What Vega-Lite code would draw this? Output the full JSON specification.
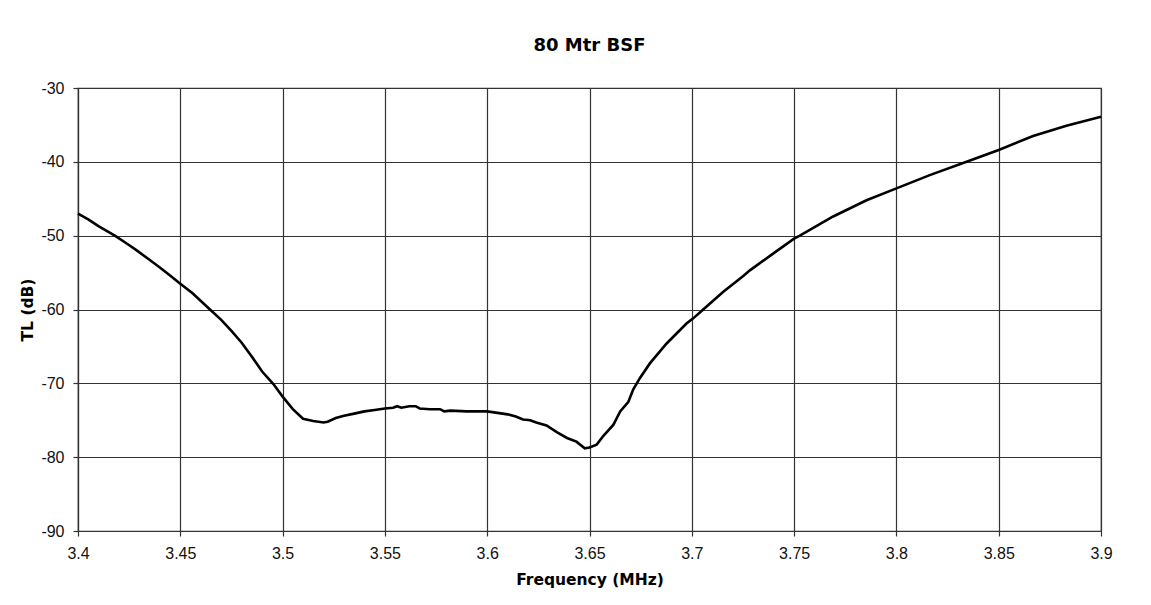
{
  "$schema": "https://vega.github.io/schema/vega-lite/v6.json",
  "width": 1023,
  "height": 443,
  "autosize": {"type": "none"},
  "padding": {"left": 78, "top": 88, "right": 50, "bottom": 74},
  "background": "white",
  "title": {
    "text": "80 Mtr BSF",
    "font": "DejaVu Sans",
    "fontSize": 18,
    "fontWeight": "bold",
    "color": "#000000",
    "anchor": "middle",
    "baseline": "alphabetic",
    "offset": 11
  },
  "data": {
    "values": [
      {"f": 3.400, "tl": -47.0},
      {"f": 3.405, "tl": -47.8},
      {"f": 3.410, "tl": -48.7},
      {"f": 3.418, "tl": -50.0},
      {"f": 3.424, "tl": -51.1},
      {"f": 3.4287, "tl": -52.0},
      {"f": 3.4351, "tl": -53.3},
      {"f": 3.440, "tl": -54.3},
      {"f": 3.445, "tl": -55.4},
      {"f": 3.450, "tl": -56.5},
      {"f": 3.456, "tl": -57.8},
      {"f": 3.4645, "tl": -60.0},
      {"f": 3.470, "tl": -61.4},
      {"f": 3.475, "tl": -62.9},
      {"f": 3.480, "tl": -64.5},
      {"f": 3.485, "tl": -66.4},
      {"f": 3.490, "tl": -68.4},
      {"f": 3.4955, "tl": -70.1},
      {"f": 3.500, "tl": -71.8},
      {"f": 3.505, "tl": -73.5},
      {"f": 3.510, "tl": -74.8},
      {"f": 3.515, "tl": -75.1},
      {"f": 3.520, "tl": -75.3},
      {"f": 3.522, "tl": -75.2},
      {"f": 3.526, "tl": -74.7},
      {"f": 3.530, "tl": -74.4},
      {"f": 3.535, "tl": -74.1},
      {"f": 3.540, "tl": -73.8},
      {"f": 3.545, "tl": -73.6},
      {"f": 3.550, "tl": -73.4},
      {"f": 3.554, "tl": -73.3},
      {"f": 3.556, "tl": -73.1},
      {"f": 3.558, "tl": -73.3},
      {"f": 3.562, "tl": -73.1},
      {"f": 3.565, "tl": -73.1},
      {"f": 3.567, "tl": -73.4},
      {"f": 3.572, "tl": -73.5},
      {"f": 3.577, "tl": -73.5},
      {"f": 3.579, "tl": -73.8},
      {"f": 3.582, "tl": -73.7},
      {"f": 3.590, "tl": -73.8},
      {"f": 3.600, "tl": -73.8},
      {"f": 3.605, "tl": -74.0},
      {"f": 3.610, "tl": -74.2},
      {"f": 3.614, "tl": -74.5},
      {"f": 3.6175, "tl": -74.9},
      {"f": 3.621, "tl": -75.0},
      {"f": 3.624, "tl": -75.3},
      {"f": 3.629, "tl": -75.7},
      {"f": 3.634, "tl": -76.6},
      {"f": 3.639, "tl": -77.4},
      {"f": 3.6436, "tl": -77.9},
      {"f": 3.6477, "tl": -78.8},
      {"f": 3.650, "tl": -78.7},
      {"f": 3.6535, "tl": -78.3},
      {"f": 3.6568, "tl": -77.1},
      {"f": 3.6617, "tl": -75.6},
      {"f": 3.665, "tl": -73.8},
      {"f": 3.669, "tl": -72.5},
      {"f": 3.6714, "tl": -70.8},
      {"f": 3.6746, "tl": -69.3},
      {"f": 3.6795, "tl": -67.3},
      {"f": 3.6877, "tl": -64.6},
      {"f": 3.6974, "tl": -61.9},
      {"f": 3.7007, "tl": -61.2},
      {"f": 3.706, "tl": -59.9},
      {"f": 3.7154, "tl": -57.6},
      {"f": 3.725, "tl": -55.5},
      {"f": 3.7284, "tl": -54.7},
      {"f": 3.7399, "tl": -52.4},
      {"f": 3.750, "tl": -50.4},
      {"f": 3.7528, "tl": -50.0},
      {"f": 3.7691, "tl": -47.4},
      {"f": 3.7854, "tl": -45.2},
      {"f": 3.800, "tl": -43.6},
      {"f": 3.8163, "tl": -41.8},
      {"f": 3.8343, "tl": -40.0},
      {"f": 3.850, "tl": -38.4},
      {"f": 3.8668, "tl": -36.5},
      {"f": 3.8831, "tl": -35.1},
      {"f": 3.900, "tl": -33.9}
    ]
  },
  "mark": {"type": "line", "color": "#000000", "strokeWidth": 2.6, "interpolate": "linear"},
  "encoding": {
    "x": {
      "field": "f",
      "type": "quantitative",
      "scale": {"domain": [3.4, 3.9], "nice": false, "zero": false},
      "axis": {
        "title": "Frequency (MHz)",
        "values": [3.4, 3.45, 3.5, 3.55, 3.6, 3.65, 3.7, 3.75, 3.8, 3.85, 3.9],
        "format": ".2~f",
        "labelPadding": 9,
        "titleBaseline": "middle",
        "titleY": 48
      }
    },
    "y": {
      "field": "tl",
      "type": "quantitative",
      "scale": {"domain": [-90, -30], "nice": false, "zero": false},
      "axis": {
        "title": "TL (dB)",
        "values": [-90, -80, -70, -60, -50, -40, -30],
        "labelExpr": "replace(datum.label, '\u2212', '-')",
        "labelPadding": 9,
        "titleBaseline": "middle",
        "titleX": -51,
        "titleY": 221.5
      }
    }
  },
  "config": {
    "view": {"stroke": "#333333", "strokeWidth": 1.2},
    "axis": {
      "grid": true,
      "gridColor": "#333333",
      "gridOpacity": 1,
      "gridWidth": 1.2,
      "domainColor": "#333333",
      "domainWidth": 1.2,
      "tickColor": "#333333",
      "tickWidth": 1.2,
      "tickSize": 5,
      "labelFont": "Liberation Sans",
      "labelFontSize": 16,
      "labelColor": "#111111",
      "titleFont": "DejaVu Sans",
      "titleFontSize": 15.5,
      "titleFontWeight": "bold",
      "titleColor": "#000000",
      "labelOverlap": false,
      "labelFlush": false
    }
  }
}
